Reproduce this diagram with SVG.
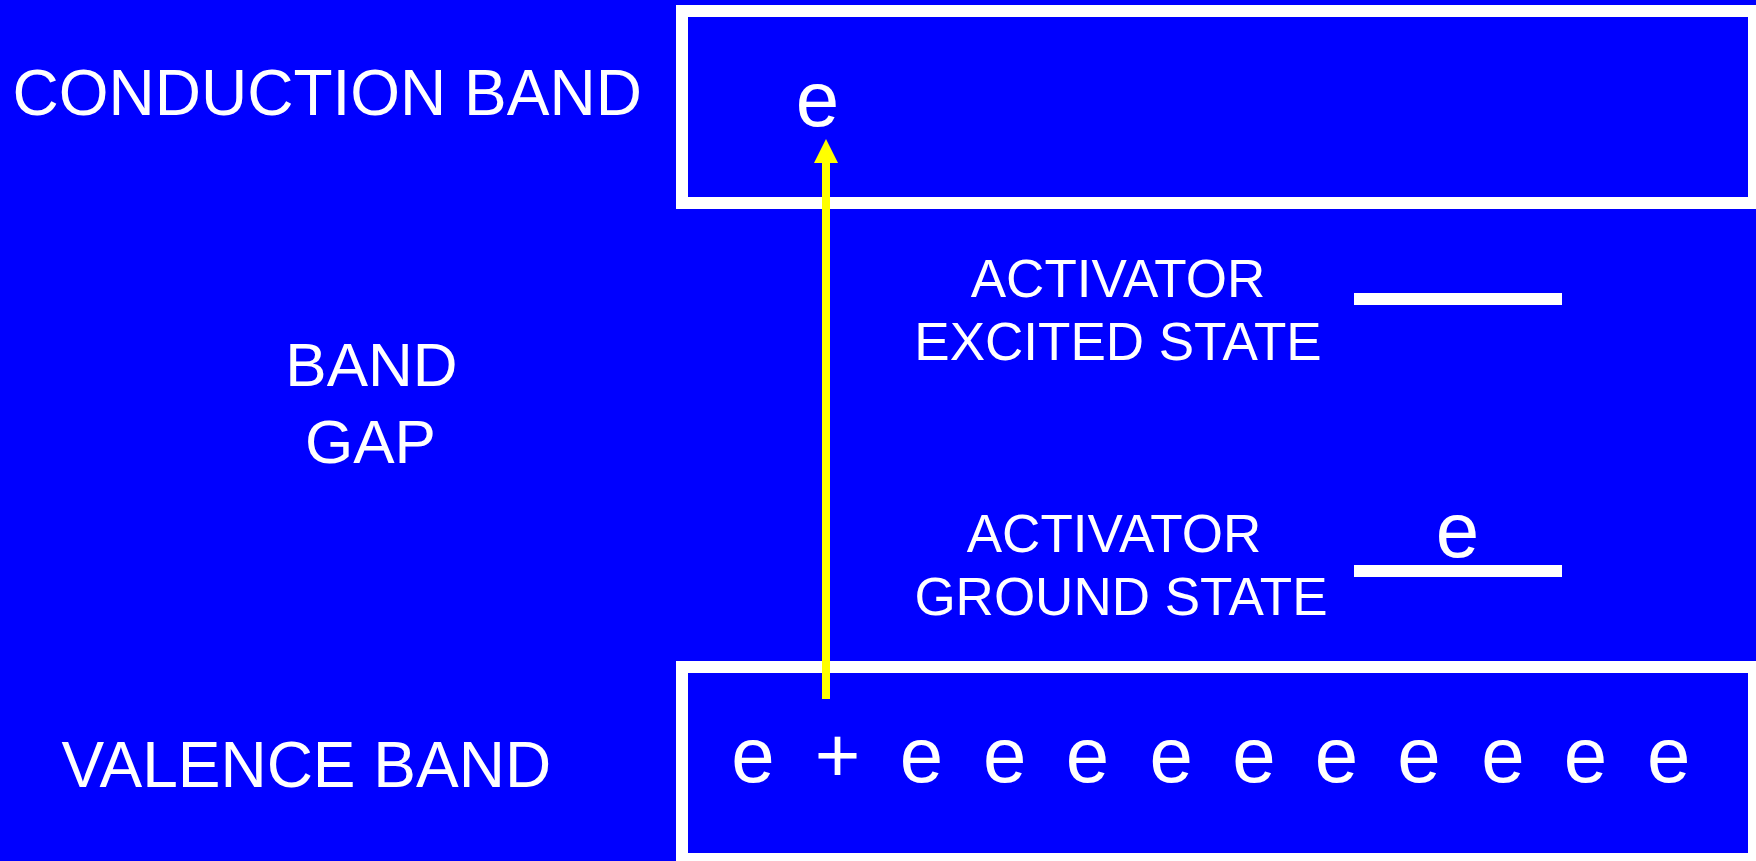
<svg xmlns="http://www.w3.org/2000/svg" width="1756" height="861" viewBox="0 0 1756 861">
<style>
.t{font-family:"Liberation Sans",Arial,sans-serif;fill:#ffffff}
.band{fill:none;stroke:#ffffff;stroke-width:12}
.lvl{fill:#ffffff}
</style>
<rect x="0" y="0" width="1756" height="861" fill="#0000ff"/>
<g id="conduction-band">
<rect class="band" x="682" y="11" width="1072" height="192"/>
<text class="t" x="817.5" y="125.5" font-size="78" text-anchor="middle">e</text>
</g>
<g id="conduction-label">
<text class="t" x="12.5" y="115" font-size="64">CONDUCTION BAND</text>
</g>
<g id="band-gap-label">
<text class="t" x="371.5" y="385.5" font-size="62" text-anchor="middle">BAND</text>
<text class="t" x="370.5" y="462.5" font-size="62" text-anchor="middle">GAP</text>
</g>
<g id="excited-state">
<text class="t" x="1118" y="296.5" font-size="53" text-anchor="middle">ACTIVATOR</text>
<text class="t" x="1118" y="360" font-size="53" text-anchor="middle">EXCITED STATE</text>
<rect class="lvl" x="1354" y="293" width="208" height="12"/>
</g>
<g id="ground-state">
<text class="t" x="1114" y="552.3" font-size="53" text-anchor="middle">ACTIVATOR</text>
<text class="t" x="1121" y="615" font-size="53" text-anchor="middle">GROUND STATE</text>
<rect class="lvl" x="1354" y="565" width="208" height="12"/>
<text class="t" x="1457.5" y="556.5" font-size="78" text-anchor="middle">e</text>
</g>
<g id="valence-label">
<text class="t" x="61.5" y="786.5" font-size="64">VALENCE BAND</text>
</g>
<g id="valence-band">
<rect class="band" x="682" y="667" width="1072" height="192"/>
<g font-size="78" text-anchor="middle" class="t">
<text class="t" x="753" y="781.5">e</text>
<text class="t" x="837.6" y="781.5">+</text>
<text class="t" x="921.5" y="781.5">e</text>
<text class="t" x="1004.8" y="781.5">e</text>
<text class="t" x="1087.4" y="781.5">e</text>
<text class="t" x="1171.3" y="781.5">e</text>
<text class="t" x="1253.9" y="781.5">e</text>
<text class="t" x="1336.4" y="781.5">e</text>
<text class="t" x="1419" y="781.5">e</text>
<text class="t" x="1503" y="781.5">e</text>
<text class="t" x="1585.5" y="781.5">e</text>
<text class="t" x="1668.8" y="781.5">e</text>
</g>
</g>
<g id="connectors">
<line x1="826" y1="699" x2="826" y2="160" stroke="#ffff00" stroke-width="8"/>
<polygon points="826,139 814,163 838,163" fill="#ffff00"/>
</g>
</svg>
